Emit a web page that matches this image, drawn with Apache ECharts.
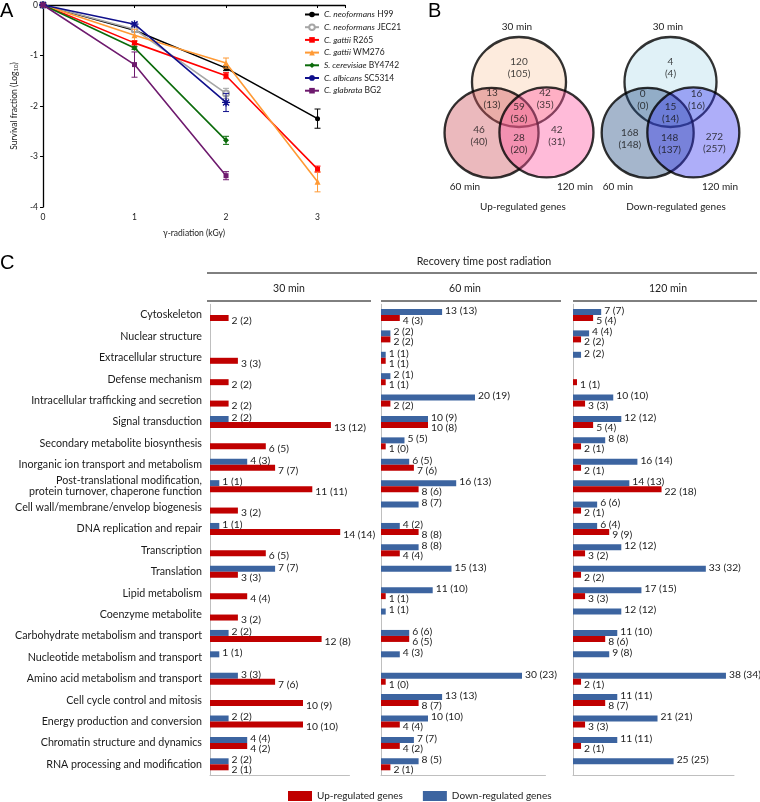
<!DOCTYPE html>
<html><head><meta charset="utf-8">
<script src="https://cdn.jsdelivr.net/npm/echarts@6/dist/echarts.min.js"></script>
<style>html,body{margin:0;padding:0;background:#fff}#c{width:760px;height:802px}</style>
</head><body><div id="c"></div>
<script>
const FONT = 'Lato';
// ---------- Panel A data ----------
const doses = [0, 1, 2, 3];
const speciesNames = ['C. neoformans','C. neoformans','C. gattii','C. gattii','S. cerevisiae','C. albicans','C. glabrata'];
const strainNames = ['H99','JEC21','R265','WM276','BY4742','SC5314','BG2'];
const survH99    = [0, -0.50, -1.25, -2.25];
const survJEC21  = [0, -0.48, -1.75];
const survR265   = [0, -0.75, -1.40, -3.25];
const survWM276  = [0, -0.60, -1.15, -3.50];
const survBY4742 = [0, -0.85, -2.68];
const survSC5314 = [0, -0.38, -1.93];
const survBG2    = [0, -1.18, -3.38];
const errH99    = [0, 0.03, 0.05, 0.19];
const errJEC21  = [0, 0.05, 0.10];
const errR265   = [0, 0.04, 0.06, 0.06];
const errWM276  = [0, 0.12, 0.10, 0.20];
const errBY4742 = [0, 0.03, 0.08];
const errSC5314 = [0, 0.03, 0.18];
const errBG2    = [0, 0.25, 0.08];
const survAll = [survH99, survJEC21, survR265, survWM276, survBY4742, survSC5314, survBG2];
const errAll  = [errH99, errJEC21, errR265, errWM276, errBY4742, errSC5314, errBG2];

// ---------- Panel B data ----------
const vennRegions = ['30 only','30&60','30&60&120','30&120','60 only','60&120','120 only'];
const upCounts   = [120, 13, 59, 42, 46, 28, 42];
const upUnique   = [105, 13, 56, 35, 40, 20, 31];
const downCounts = [4, 0, 15, 16, 168, 148, 272];
const downUnique = [4, 0, 14, 16, 148, 137, 257];

// ---------- Panel C data ----------
const categories = ['Cytoskeleton','Nuclear structure','Extracellular structure','Defense mechanism',
 'Intracellular trafficking and secretion','Signal transduction','Secondary metabolite biosynthesis',
 'Inorganic ion transport and metabolism','Post-translational modification,\nprotein turnover, chaperone function',
 'Cell wall/membrane/envelop biogenesis','DNA replication and repair','Transcription','Translation',
 'Lipid metabolism','Coenzyme metabolite','Carbohydrate metabolism and transport',
 'Nucleotide metabolism and transport','Amino acid metabolism and transport','Cell cycle control and mitosis',
 'Energy production and conversion','Chromatin structure and dynamics','RNA processing and modification'];
const up30    = [2,null,3,2,2,13,6,7,11,3,14,6,3,4,3,12,null,7,10,10,4,2];
const up30u   = [2,null,3,2,2,12,5,7,11,2,14,5,3,4,2,8,null,6,9,10,2,1];
const down30  = [null,null,null,null,null,2,null,4,1,null,1,null,7,null,null,2,1,3,null,2,4,2];
const down30u = [null,null,null,null,null,2,null,3,1,null,1,null,7,null,null,2,1,3,null,2,4,2];
const up60    = [4,2,1,1,2,10,1,7,8,null,8,4,null,1,null,6,null,1,8,4,4,2];
const up60u   = [3,2,1,1,2,8,0,6,6,null,8,4,null,1,null,5,null,0,7,4,2,1];
const down60  = [13,2,1,2,20,10,5,6,16,8,4,8,15,11,1,6,4,30,13,10,7,8];
const down60u = [13,2,1,1,19,9,5,5,13,7,2,8,13,10,1,6,3,23,13,10,7,5];
const up120    = [5,2,null,1,3,5,2,2,22,2,9,3,2,3,null,8,null,2,8,3,2,null];
const up120u   = [4,2,null,1,3,4,1,1,18,1,9,2,2,3,null,6,null,1,7,3,1,null];
const down120  = [7,4,2,null,10,12,8,16,14,6,6,12,33,17,12,11,9,38,11,21,11,25];
const down120u = [7,4,2,null,10,12,8,14,13,6,4,12,32,15,12,10,8,34,11,21,11,25];
const timeLabels = ['30 min','60 min','120 min'];
const axisMaxC = [15, 35, 40];

// ---------- styles ----------
const colorsA = ['#000000','#a6a6a6','#ff0000','#ff9a35','#0b6b0b','#10108c','#6e1a6e'];
const symbolsA = ['circle','emptyCircle','rect','triangle','diamond',
  'path://M0,-10L0,10M-10,0L10,0M-7.5,-7.5L7.5,7.5M-7.5,7.5L7.5,-7.5','rect'];
const symSizeA = [5,6,5,6,6,8,5];
const RED = '#c00000', BLUE = '#3c64a0';

const chart = echarts.init(document.getElementById('c'), null, {renderer:'canvas'});
const series = [];
const seriesNamesA = speciesNames.map((s,i)=>s+' '+strainNames[i]);

// Panel A lines
survAll.forEach((arr, k) => {
  const isStar = k === 5;
  series.push({
    type:'line', name: seriesNamesA[k], xAxisIndex:0, yAxisIndex:0,
    data: arr.map((v,i)=>[doses[i], v]),
    symbol: symbolsA[k], symbolSize: symSizeA[k], showAllSymbol:true,
    lineStyle:{color:colorsA[k], width:1.6},
    itemStyle: isStar ? {color:colorsA[k], borderColor:colorsA[k], borderWidth:1.3}
             : (k===1 ? {color:colorsA[k], borderColor:colorsA[k], borderWidth:1.2} : {color:colorsA[k]}),
    z: 3 + k, animation:false
  });
  const errData = arr.map((v,i)=>[doses[i], v - errAll[k][i], v + errAll[k][i]]).filter((d,i)=>errAll[k][i]>0);
  series.push({
    type:'custom', xAxisIndex:0, yAxisIndex:0, silent:true, z:2+k, animation:false,
    data: errData,
    renderItem:(params, api)=>{
      const lo = api.coord([api.value(0), api.value(1)]);
      const hi = api.coord([api.value(0), api.value(2)]);
      const st = {stroke:colorsA[k], lineWidth:1};
      return {type:'group', children:[
        {type:'line', shape:{x1:lo[0],y1:lo[1],x2:hi[0],y2:hi[1]}, style:st},
        {type:'line', shape:{x1:lo[0]-3,y1:lo[1],x2:lo[0]+3,y2:lo[1]}, style:st},
        {type:'line', shape:{x1:hi[0]-3,y1:hi[1],x2:hi[0]+3,y2:hi[1]}, style:st}
      ]};
    }
  });
});

// Panel B Venn (layout in circle units)
const vennCircleColorsUp = ['rgba(250,205,170,0.5)','rgba(206,80,90,0.5)','rgba(255,85,160,0.5)'];
const vennCircleColorsDown = ['rgba(185,222,236,0.55)','rgba(30,72,128,0.5)','rgba(52,52,240,0.5)'];
function vennSeries(gridIdx, dx, size, fills, counts, uniq, pos) {
  const centres = [[0,0.6],[-dx,-0.53],[dx,-0.52]];
  series.push({
    type:'scatter', xAxisIndex:gridIdx, yAxisIndex:gridIdx, silent:true, animation:false,
    symbol:'circle', symbolSize:size,
    data: centres.map((c,i)=>({value:c, itemStyle:{color:fills[i], borderColor:'#000', borderWidth:2.3}})),
    z:2
  });
  series.push({
    type:'scatter', xAxisIndex:gridIdx, yAxisIndex:gridIdx, silent:true, animation:false,
    symbolSize:0, z:5,
    data: counts.map((c,i)=>({value:pos[i], name:vennRegions[i]})),
    label:{show:true, position:'inside', fontFamily:FONT, fontSize:10, color:'#111', lineHeight:12,
      formatter: p => counts[p.dataIndex] + '\n(' + uniq[p.dataIndex] + ')'}
  });
}
vennSeries(1, 0.61, [94, 90], vennCircleColorsUp, upCounts, upUnique,
  [[0,0.92],[-0.6,0.22],[0,-0.08],[0.58,0.22],[-0.89,-0.6],[0,-0.77],[0.84,-0.6]]);
vennSeries(2, 0.51, [92, 90], vennCircleColorsDown, downCounts, downUnique,
  [[0,0.92],[-0.62,0.2],[0,-0.08],[0.58,0.2],[-0.91,-0.67],[-0.02,-0.77],[0.98,-0.74]]);

// Panel C bars
const panelsC = [[down30, down30u, up30, up30u],[down60, down60u, up60, up60u],[down120, down120u, up120, up120u]];
panelsC.forEach((p, j) => {
  const g = 3 + j;
  series.push({
    type:'bar', name:'Down-regulated genes', xAxisIndex:g, yAxisIndex:g, animation:false,
    data: p[0], barWidth:6, barGap:'0%', itemStyle:{color:BLUE},
    label:{show:true, position:'right', distance:3, offset:[0,-1.5], fontFamily:FONT, fontSize:10.3, color:'#222',
      formatter: q => p[0][q.dataIndex]==null ? '' : p[0][q.dataIndex] + ' (' + p[1][q.dataIndex] + ')'}
  });
  series.push({
    type:'bar', name:'Up-regulated genes', xAxisIndex:g, yAxisIndex:g, animation:false,
    data: p[2], barWidth:6, barGap:'0%', itemStyle:{color:RED},
    label:{show:true, position:'right', distance:3, offset:[0,2.5], fontFamily:FONT, fontSize:10.3, color:'#222',
      formatter: q => p[2][q.dataIndex]==null ? '' : p[2][q.dataIndex] + ' (' + p[3][q.dataIndex] + ')'}
  });
});

const cTop = 304.3, cHeight = 470.7;
const cLeft = [210, 381, 573];
const cWidth = [139.5, 164.5, 161];
const grids = [
  {left:43, top:5, width:302, height:202},
  {left:429, top:19, width:180, height:180},
  {left:581, top:19, width:180, height:180},
];
cLeft.forEach((l,j)=>grids.push({left:l, top:cTop, width:cWidth[j], height:cHeight}));

const hiddenAxis = {type:'value', min:-2, max:2, show:false};
const xAxes = [
  {type:'value', gridIndex:0, min:0, max:3.3, interval:1,
   axisLine:{lineStyle:{color:'#000', width:1.3}}, axisTick:{show:true, length:3, lineStyle:{color:'#000'}},
   splitLine:{show:false},
   axisLabel:{fontFamily:FONT, fontSize:8.5, color:'#222', margin:6, formatter:v=>Number.isInteger(v)?String(v):''},
   name:'γ-radiation (kGy)', nameLocation:'middle', nameGap:22,
   nameTextStyle:{fontFamily:FONT, fontSize:8.5, color:'#222'}},
  Object.assign({gridIndex:1}, hiddenAxis),
  Object.assign({gridIndex:2}, hiddenAxis),
];
const yAxes = [
  {type:'value', gridIndex:0, min:-4, max:0, interval:1,
   axisLine:{show:true, lineStyle:{color:'#000', width:1.3}}, axisTick:{show:true, length:3, lineStyle:{color:'#000'}},
   splitLine:{show:false},
   axisLabel:{fontFamily:FONT, fontSize:8.5, color:'#222', margin:5},
   name:'{a|Survival fraction (Log}{b|10}{a|)}', nameLocation:'middle', nameGap:24, nameRotate:90,
   nameTextStyle:{rich:{a:{fontFamily:FONT, fontSize:8.5, color:'#222'}, b:{fontFamily:FONT, fontSize:6, color:'#222', padding:[4,0,0,0]}}}},
  Object.assign({gridIndex:1}, hiddenAxis),
  Object.assign({gridIndex:2}, hiddenAxis),
];
[0,1,2].forEach(j=>{
  xAxes.push({type:'value', gridIndex:3+j, min:0, max:axisMaxC[j],
    axisLine:{show:true, lineStyle:{color:'#bfbfbf', width:1}}, axisTick:{show:false}, axisLabel:{show:false}, splitLine:{show:false}});
  yAxes.push({type:'category', gridIndex:3+j, data:categories, inverse:true,
    axisLine:{show:true, lineStyle:{color:'#bfbfbf', width:1}}, axisTick:{show:false},
    axisLabel:{show:j===0, fontFamily:FONT, fontSize:10.7, color:'#1a1a1a', margin:8, lineHeight:11.5}});
});

function txt(x, y, t, size, align, extra) {
  return Object.assign({type:'text', x:x, y:y, silent:true,
    style:{text:t, fontFamily:FONT, fontSize:size, fill:'#222', textAlign:align||'center', textVerticalAlign:'middle'}}, extra||{});
}
function ln(x1,y1,x2,y2){ return {type:'line', silent:true, shape:{x1,y1,x2,y2}, style:{stroke:'#000', lineWidth:1}}; }
const letterStyle = t => ({text:t, fontFamily:'Liberation Sans', fontSize:20, fill:'#000'});
const graphic = [
  {type:'text', x:0, y:1, style:letterStyle('A')},
  {type:'text', x:428, y:1, style:letterStyle('B')},
  {type:'text', x:0, y:253, style:letterStyle('C')},
  txt(517, 27, timeLabels[0], 10), txt(465, 187, timeLabels[1], 10), txt(575, 187, timeLabels[2], 10),
  txt(523, 207, 'Up-regulated genes', 10),
  txt(668, 27, timeLabels[0], 10), txt(618, 187, timeLabels[1], 10), txt(720, 187, timeLabels[2], 10),
  txt(676, 207, 'Down-regulated genes', 10),
  txt(484, 262, 'Recovery time post radiation', 10.7),
  ln(207, 273, 757, 273),
  txt(289, 289, timeLabels[0], 10.5), txt(465, 289, timeLabels[1], 10.5), txt(668, 289, timeLabels[2], 10.5),
  ln(207, 301, 371, 301), ln(381, 301, 561, 301), ln(573, 301, 757, 301),
];

const legendRich = {i:{fontFamily:FONT, fontSize:8.5, fontStyle:'italic', color:'#222'}, n:{fontFamily:FONT, fontSize:8.5, color:'#222'}};
chart.setOption({
  animation:false,
  textStyle:{fontFamily:FONT},
  grid: grids, xAxis: xAxes, yAxis: yAxes, series: series, graphic: graphic,
  legend:[
    {orient:'vertical', left:304, top:10, padding:0, itemWidth:14, itemHeight:7, itemGap:3.7, selectedMode:false,
     data: seriesNamesA,
     formatter: name => { const k = seriesNamesA.indexOf(name); return '{i|'+speciesNames[k]+'}{n| '+strainNames[k]+'}'; },
     textStyle:{fontFamily:FONT, fontSize:8.5, color:'#222', rich:legendRich}},
    {orient:'horizontal', left:288, top:791, padding:0, itemWidth:24, itemHeight:10, itemGap:20, selectedMode:false, icon:'rect',
     data:['Up-regulated genes','Down-regulated genes'],
     textStyle:{fontFamily:FONT, fontSize:10, color:'#222'}}
  ]
});
</script></body></html>
